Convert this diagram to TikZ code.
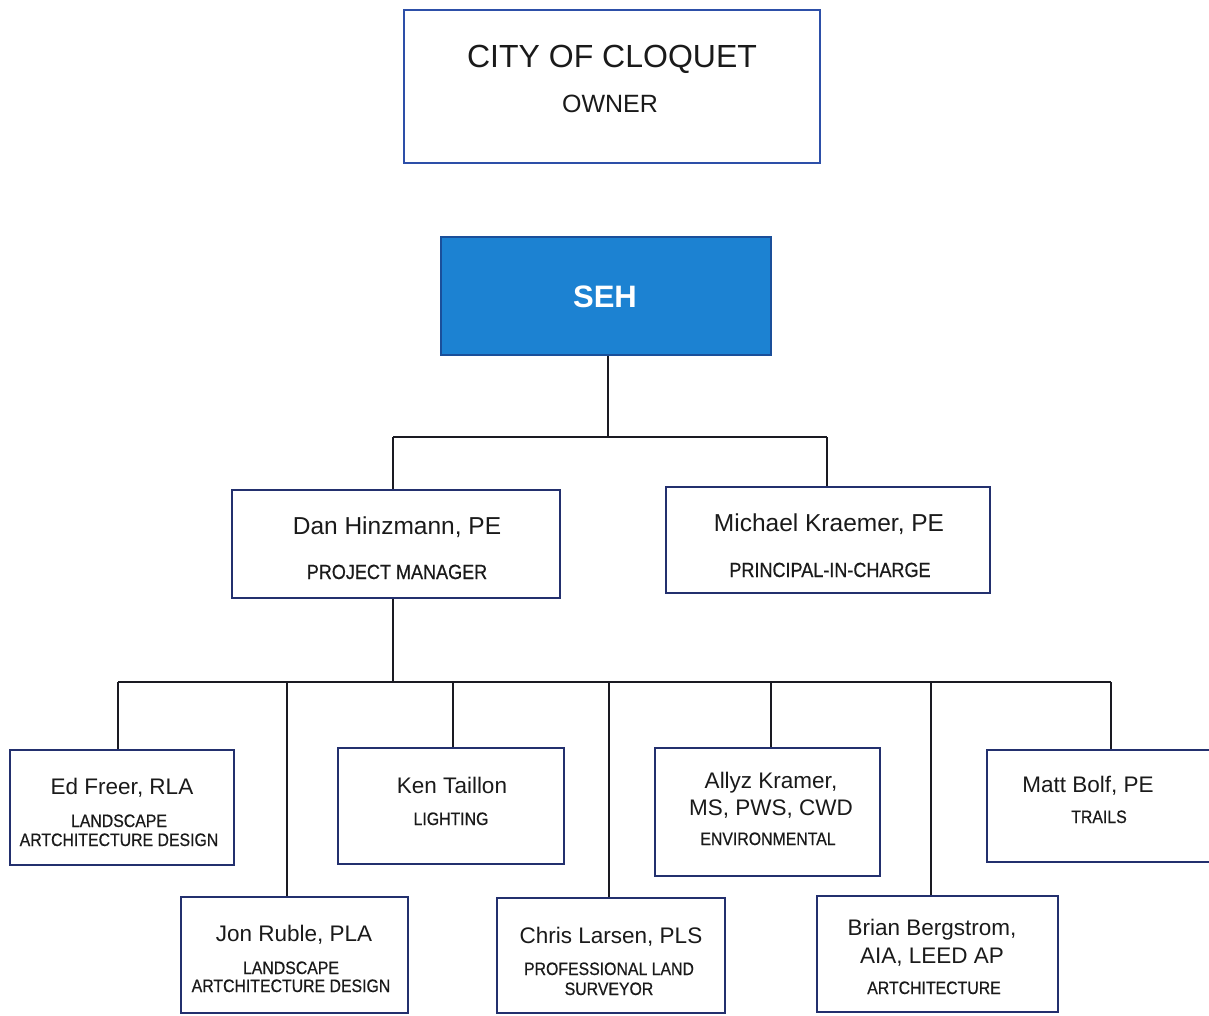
\documentclass[tikz,border=0pt]{standalone}
\usepackage{fontspec}
\setmainfont{Liberation Sans}
\newfontfamily\labelfont[FakeStretch=0.88,FakeBold=0.6]{Liberation Sans}
\definecolor{navy}{HTML}{23306E}
\definecolor{sehblue}{HTML}{1C82D2}
\definecolor{sehedge}{HTML}{1A4F9A}
\definecolor{cityblue}{HTML}{2D4FA8}
\definecolor{linec}{HTML}{1A1A22}
\definecolor{textc}{HTML}{1A1A1A}
\newcommand{\fsBig}{\fontsize{24.5}{28}\selectfont}
\newcommand{\fsName}{\fontsize{22.5}{26}\selectfont}
\newcommand{\fsMid}{\labelfont\fontsize{20.5}{24}\selectfont}
\newcommand{\fsLab}{\labelfont\fontsize{18}{21}\selectfont}
\tikzset{
  orgbox/.style={draw=navy, line width=2.6pt, inner sep=0pt, fill=white},
  conn/.style={draw=linec, line width=2.1pt},
  plaintxt/.style={inner sep=0pt, anchor=base, text=textc},
  bigname/.style={inner sep=0pt, anchor=base, text=textc, font=\fsBig},
  pname/.style={inner sep=0pt, anchor=base, text=textc, font=\fsName},
  midlab/.style={inner sep=0pt, anchor=base, text=textc, font=\fsMid},
  smlab/.style={inner sep=0pt, anchor=base, text=textc, font=\fsLab}
}
\begin{document}
\begin{tikzpicture}[x=1pt,y=-1pt]
\useasboundingbox (0,0) rectangle (1209,1015);
\fill[white] (0,0) rectangle (1209,1015);

% boxes
\node[orgbox, draw=cityblue, minimum width=416pt, minimum height=153pt] (city) at (612,86.5) {};
\node[orgbox, draw=sehedge, fill=sehblue, minimum width=330pt, minimum height=118pt] (seh) at (606,296) {};
\node[orgbox, minimum width=328pt, minimum height=108pt] (dan) at (396,544) {};
\node[orgbox, minimum width=324pt, minimum height=106pt] (mk) at (828,540) {};
\node[orgbox, minimum width=224pt, minimum height=115pt] (ed) at (122,807.5) {};
\node[orgbox, minimum width=226pt, minimum height=116pt] (ken) at (451,806) {};
\node[orgbox, minimum width=225pt, minimum height=128pt] (allyz) at (767.5,812) {};
\node[orgbox, minimum width=226pt, minimum height=112pt] (matt) at (1100,806) {};
\node[orgbox, minimum width=227pt, minimum height=116pt] (jon) at (294.5,955) {};
\node[orgbox, minimum width=228pt, minimum height=115pt] (chris) at (611,955.5) {};
\node[orgbox, minimum width=241pt, minimum height=116pt] (brian) at (937.5,954) {};

% texts
\node[plaintxt, font=\fontsize{32}{36}\selectfont] (cityt) at (612,67) {CITY OF CLOQUET};
\node[plaintxt, font=\fontsize{25}{28}\selectfont] (cityo) at (610,112) {OWNER};
\node[plaintxt, text=white, font=\bfseries\fontsize{31}{34}\selectfont] (seht) at (605,307) {SEH};

\node[bigname] (dant) at (397,534) {Dan Hinzmann, PE};
\node[midlab] (danl) at (397,579) {PROJECT MANAGER};
\node[bigname] (mkt) at (829,531) {Michael Kraemer, PE};
\node[midlab] (mkl) at (830,577) {PRINCIPAL-IN-CHARGE};

\node[pname] (edt) at (122,794) {Ed Freer, RLA};
\node[smlab] (edl1) at (119,827) {LANDSCAPE};
\node[smlab] (edl2) at (119,846) {ARTCHITECTURE DESIGN};

\node[pname] (kent) at (452,793) {Ken Taillon};
\node[smlab] (kenl) at (451,825) {LIGHTING};

\node[pname] (allyzt1) at (771,788) {Allyz Kramer,};
\node[pname] (allyzt2) at (771,815) {MS, PWS, CWD};
\node[smlab] (allyzl) at (768,845) {ENVIRONMENTAL};

\node[pname] (mattt) at (1088,792) {Matt Bolf, PE};
\node[smlab] (mattl) at (1099,823) {TRAILS};

\node[pname] (jont) at (294,941) {Jon Ruble, PLA};
\node[smlab] (jonl1) at (291,974) {LANDSCAPE};
\node[smlab] (jonl2) at (291,992) {ARTCHITECTURE DESIGN};

\node[pname] (christ) at (611,943) {Chris Larsen, PLS};
\node[smlab] (chrisl1) at (609,975) {PROFESSIONAL LAND};
\node[smlab] (chrisl2) at (609,995) {SURVEYOR};

\node[pname] (briant1) at (932,935) {Brian Bergstrom,};
\node[pname] (briant2) at (932,963) {AIA, LEED AP};
\node[smlab] (brianl) at (934,994) {ARTCHITECTURE};

% connectors
\coordinate (j1) at (608,437);
\coordinate (ja) at (393,437);
\coordinate (jb) at (827,437);
\draw[conn] (seh.south -| j1) -- (j1);
\draw[conn] (ja) -- (jb);
\draw[conn] (ja) -- (ja |- dan.north);
\draw[conn] (jb) -- (jb |- mk.north);

\coordinate (j2) at (393,682);
\coordinate (b1) at (118,682);
\coordinate (b2) at (287,682);
\coordinate (b3) at (453,682);
\coordinate (b4) at (609,682);
\coordinate (b5) at (771,682);
\coordinate (b6) at (931,682);
\coordinate (b7) at (1111,682);
\draw[conn] (j2 |- dan.south) -- (j2);
\draw[conn] (b1) -- (b7);
\draw[conn] (b1) -- (b1 |- ed.north);
\draw[conn] (b2) -- (b2 |- jon.north);
\draw[conn] (b3) -- (b3 |- ken.north);
\draw[conn] (b4) -- (b4 |- chris.north);
\draw[conn] (b5) -- (b5 |- allyz.north);
\draw[conn] (b6) -- (b6 |- brian.north);
\draw[conn] (b7) -- (b7 |- matt.north);
\end{tikzpicture}
\end{document}
